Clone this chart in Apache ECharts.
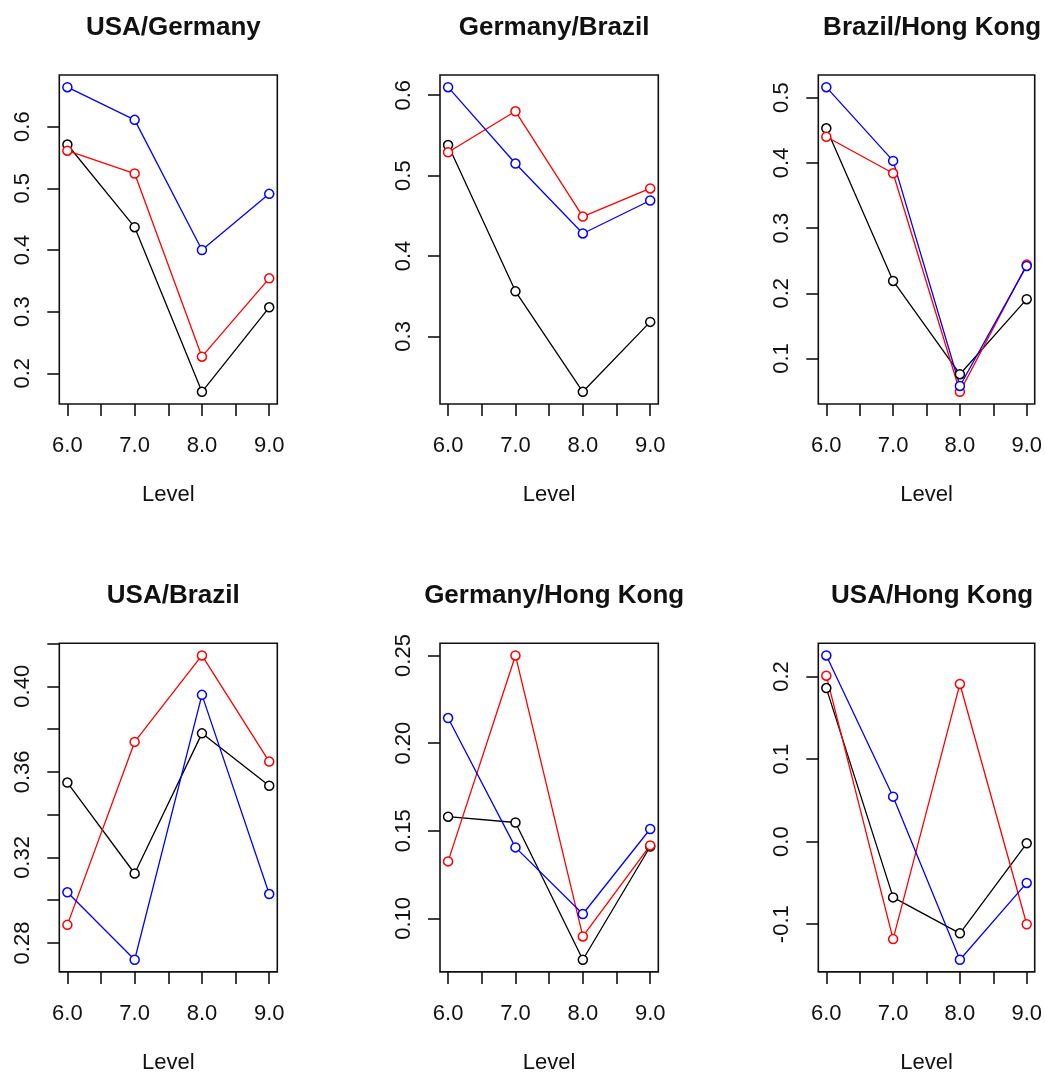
<!DOCTYPE html>
<html>
<head>
<meta charset="utf-8">
<script src="https://cdn.jsdelivr.net/npm/echarts@6/dist/echarts.min.js"></script>
<style>
html,body{margin:0;padding:0;background:#fff;}
#c{width:1045px;height:1075px;}
</style>
</head>
<body>
<div id="c"></div>
<script>
// ---- data ----
const levels = [6, 7, 8, 9];
const xTicks = [6, 6.5, 7, 7.5, 8, 8.5, 9];
const xLabels = [6, 7, 8, 9];
const panelTitles = ['USA/Germany', 'Germany/Brazil', 'Brazil/Hong Kong', 'USA/Brazil', 'Germany/Hong Kong', 'USA/Hong Kong'];

const blackUSAGermany = [0.571, 0.437, 0.170, 0.307];
const redUSAGermany   = [0.561, 0.524, 0.227, 0.354];
const blueUSAGermany  = [0.664, 0.611, 0.400, 0.491];

const blackGermanyBrazil = [0.538, 0.356, 0.231, 0.318];
const redGermanyBrazil   = [0.529, 0.580, 0.449, 0.484];
const blueGermanyBrazil  = [0.610, 0.515, 0.428, 0.469];

const blackBrazilHK = [0.453, 0.219, 0.076, 0.191];
const redBrazilHK   = [0.440, 0.384, 0.049, 0.244];
const blueBrazilHK  = [0.516, 0.403, 0.058, 0.242];

const blackUSABrazil = [0.355, 0.3125, 0.378, 0.3535];
const redUSABrazil   = [0.2885, 0.374, 0.4144, 0.3648];
const blueUSABrazil  = [0.3037, 0.2722, 0.396, 0.3029];

const blackGermanyHK = [0.158, 0.1547, 0.0764, 0.141];
const redGermanyHK   = [0.1325, 0.250, 0.0897, 0.1416];
const blueGermanyHK  = [0.2143, 0.1405, 0.1025, 0.151];

const blackUSAHK = [0.186, -0.0675, -0.111, -0.002];
const redUSAHK   = [0.201, -0.118, 0.191, -0.100];
const blueUSAHK  = [0.2255, 0.0545, -0.143, -0.050];

const yTicks1 = [0.2, 0.3, 0.4, 0.5, 0.6];
const yTicks2 = [0.3, 0.4, 0.5, 0.6];
const yTicks3 = [0.1, 0.2, 0.3, 0.4, 0.5];
const yTicks4 = [0.28, 0.30, 0.32, 0.34, 0.36, 0.38, 0.40, 0.42];
const yLabels4 = [0.28, 0.32, 0.36, 0.40];
const yTicks5 = [0.10, 0.15, 0.20, 0.25];
const yTicks6 = [-0.1, 0.0, 0.1, 0.2];

const panels = [
  {title: panelTitles[0], black: blackUSAGermany, red: redUSAGermany, blue: blueUSAGermany, ticks: yTicks1, labels: yTicks1, dec: 1},
  {title: panelTitles[1], black: blackGermanyBrazil, red: redGermanyBrazil, blue: blueGermanyBrazil, ticks: yTicks2, labels: yTicks2, dec: 1},
  {title: panelTitles[2], black: blackBrazilHK, red: redBrazilHK, blue: blueBrazilHK, ticks: yTicks3, labels: yTicks3, dec: 1},
  {title: panelTitles[3], black: blackUSABrazil, red: redUSABrazil, blue: blueUSABrazil, ticks: yTicks4, labels: yLabels4, dec: 2},
  {title: panelTitles[4], black: blackGermanyHK, red: redGermanyHK, blue: blueGermanyHK, ticks: yTicks5, labels: yTicks5, dec: 2},
  {title: panelTitles[5], black: blackUSAHK, red: redUSAHK, blue: blueUSAHK, ticks: yTicks6, labels: yTicks6, dec: 1}
];

// ---- layout ----
const colLeft = [59.3, 440, 818.3];
const colWidth = [218, 218.3, 217.7];
const rowTop = [75, 643.3];
const rowHeight = [329, 328.6];
const FONT = 'Liberation Sans, Arial, sans-serif';
const TXT = '#111';

const option = {
  animation: false,
  backgroundColor: '#fff',
  title: [], grid: [], xAxis: [], yAxis: [], series: []
};

function pad(lo, hi) { const r = hi - lo; return [lo - 0.04 * r, hi + 0.04 * r]; }

panels.forEach((p, i) => {
  const col = i % 3, row = Math.floor(i / 3);
  const left = colLeft[col], top = rowTop[row], w = colWidth[col], h = rowHeight[row];
  option.title.push({
    text: p.title, left: left + w / 2, top: top - 65, textAlign: 'center',
    textStyle: {fontFamily: FONT, fontSize: 26, fontWeight: 'bold', color: TXT}
  });
  option.grid.push({left: left, top: top, width: w, height: h, show: true,
    borderColor: '#111', borderWidth: 1.6, backgroundColor: 'transparent'});
  const xr = pad(levels[0], levels[levels.length - 1]);
  option.xAxis.push({
    type: 'value', gridIndex: i, min: xr[0], max: xr[1], position: 'bottom',
    axisLine: {show: false, onZero: false},
    splitLine: {show: false},
    axisTick: {show: true, customValues: xTicks, length: 12, lineStyle: {color: '#111', width: 1.6}},
    axisLabel: {customValues: xLabels, formatter: v => Number(v).toFixed(1), fontFamily: FONT, fontSize: 22, color: TXT, margin: 31},
    name: 'Level', nameLocation: 'middle', nameGap: 80,
    nameTextStyle: {fontFamily: FONT, fontSize: 22, color: TXT}
  });
  const all = p.black.concat(p.red, p.blue);
  const yr = pad(Math.min(...all), Math.max(...all));
  option.yAxis.push({
    type: 'value', gridIndex: i, min: yr[0], max: yr[1], position: 'left',
    axisLine: {show: false, onZero: false},
    splitLine: {show: false},
    axisTick: {show: true, customValues: p.ticks, length: 12, lineStyle: {color: '#111', width: 1.6}},
    axisLabel: {customValues: p.labels, rotate: 90, formatter: v => Number(v).toFixed(p.dec),
      fontFamily: FONT, fontSize: 22, color: TXT, margin: 25}
  });
  [['black', '#000000'], ['red', '#ff0000'], ['blue', '#0000ff']].forEach(([key, c]) => {
    option.series.push({
      type: 'line', xAxisIndex: i, yAxisIndex: i,
      data: levels.map((lv, k) => [lv, p[key][k]]),
      symbol: 'circle', symbolSize: 9,
      itemStyle: {color: '#fff', borderColor: c, borderWidth: 1.5},
      lineStyle: {color: c, width: 1.3},
      emphasis: {disabled: true}, silent: true
    });
  });
});

const chart = echarts.init(document.getElementById('c'), null, {renderer: 'canvas'});
chart.setOption(option);
</script>
</body>
</html>
